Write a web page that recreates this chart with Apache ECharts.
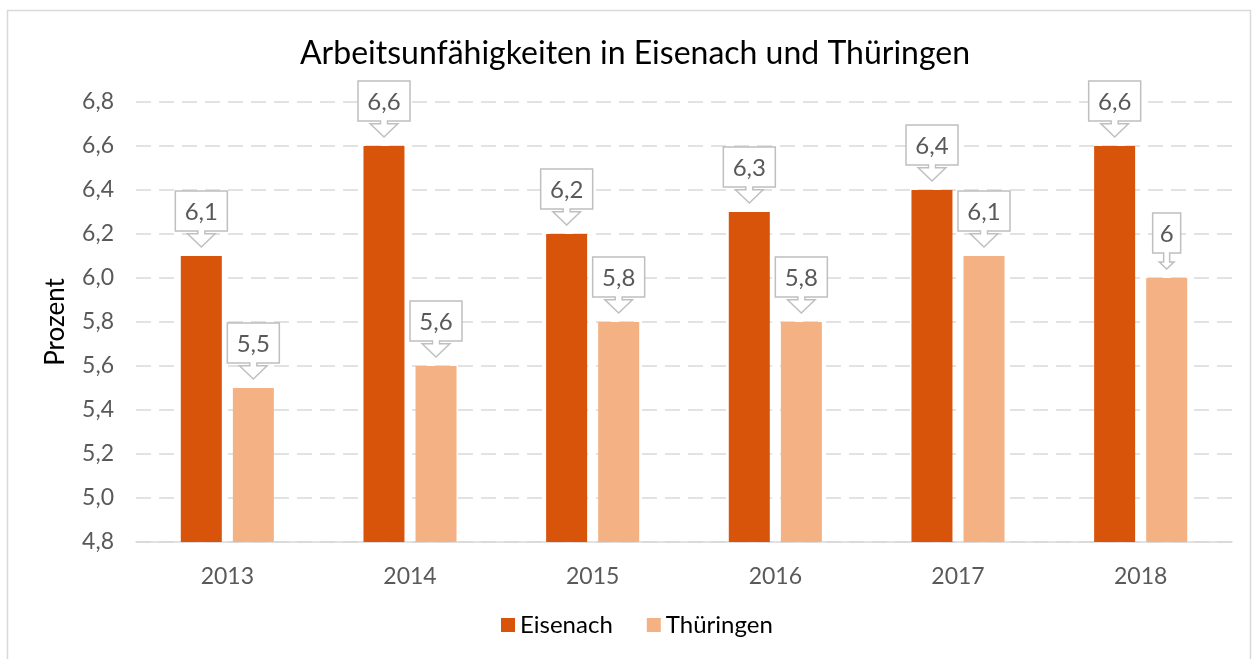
<!DOCTYPE html>
<html>
<head>
<meta charset="utf-8">
<style>
  html, body { margin: 0; padding: 0; background: #fff; }
  #main { width: 1255px; height: 659px; }
</style>
<script src="https://cdn.jsdelivr.net/npm/echarts@6/dist/echarts.min.js"></script>
</head>
<body>
<div id="main"></div>
<script>
// Daten
const years = ['2013', '2014', '2015', '2016', '2017', '2018']
const eisenach = [6.1, 6.6, 6.2, 6.3, 6.4, 6.6]
const thueringen = [5.5, 5.6, 5.8, 5.8, 6.1, 6.0]

const dark = '#D9540B'
const light = '#F4B183'
const fmt = v => String(v).replace('.', ',')

// Callout (Box mit Pfeil nach unten) ueber dem Balken
function callout(offsetFrac) {
  return function (params, api) {
    const i = api.value(0)
    const v = api.value(1)
    const p = api.coord([i, v])
    const band = api.size([1, 0])[0]
    const tx = p[0] + band * offsetFrac
    const ty = p[1] - 9
    const txt = fmt(v)
    const w = 16 + 12 * txt.length
    const h = 40
    const headW = w * 0.53
    const headH = headW * 0.48
    const stemW = txt.length > 1 ? 7 : 6
    const boxBottom = ty - 16
    const headTop = ty - headH
    const pts = [
      [tx - w / 2, boxBottom - h],
      [tx + w / 2, boxBottom - h],
      [tx + w / 2, boxBottom],
      [tx + stemW / 2, boxBottom],
      [tx + stemW / 2, headTop],
      [tx + headW / 2, headTop],
      [tx, ty],
      [tx - headW / 2, headTop],
      [tx - stemW / 2, headTop],
      [tx - stemW / 2, boxBottom],
      [tx - w / 2, boxBottom]
    ]
    return {
      type: 'group',
      children: [
        {
          type: 'polygon',
          shape: { points: pts },
          style: { fill: '#fff', stroke: '#BFBFBF', lineWidth: 1.5 }
        },
        {
          type: 'text',
          style: {
            text: txt,
            x: tx,
            y: boxBottom - h / 2 + 1,
            align: 'center',
            verticalAlign: 'middle',
            font: '24px Lato',
            fill: '#595959'
          }
        }
      ]
    }
  }
}

const chart = echarts.init(document.getElementById('main'))
chart.setOption({
  animation: false,
  textStyle: { fontFamily: 'Lato' },
  graphic: [{
    type: 'rect',
    shape: { x: 7.5, y: 10.5, width: 1243, height: 660 },
    style: { fill: 'none', stroke: '#D9D9D9', lineWidth: 1.5 },
    silent: true
  }],
  title: {
    text: 'Arbeitsunfähigkeiten in Eisenach und Thüringen',
    left: 295,
    top: 33,
    textStyle: { fontFamily: 'Lato', fontSize: 32, fontWeight: 'normal', color: '#000' }
  },
  legend: {
    bottom: 17,
    left: 496,
    itemWidth: 14,
    itemHeight: 14,
    itemGap: 34,
    icon: 'rect',
    textStyle: { fontFamily: 'Lato', fontSize: 24, color: '#000' },
    data: ['Eisenach', 'Thüringen']
  },
  grid: { left: 136, right: 23, top: 102, bottom: 117 },
  xAxis: {
    type: 'category',
    data: years,
    axisTick: { show: false },
    axisLine: { lineStyle: { color: '#D9D9D9', width: 1.5 } },
    axisLabel: { fontSize: 23, color: '#595959', margin: 23 }
  },
  yAxis: {
    type: 'value',
    min: 4.8,
    max: 6.8,
    interval: 0.2,
    name: 'Prozent',
    nameLocation: 'middle',
    nameRotate: 90,
    nameGap: 67,
    nameTextStyle: { fontSize: 26, color: '#000' },
    axisLine: { show: false },
    axisTick: { show: false },
    axisLabel: {
      fontSize: 23, color: '#595959', margin: 22,
      formatter: v => v.toFixed(1).replace('.', ',')
    },
    splitLine: { lineStyle: { color: '#D9D9D9', width: 1.5, type: [15, 8] } }
  },
  series: [
    {
      name: 'Eisenach',
      type: 'bar',
      data: eisenach,
      barWidth: 41,
      barGap: '27%',
      itemStyle: { color: dark }
    },
    {
      name: 'Thüringen',
      type: 'bar',
      data: thueringen,
      barWidth: 41,
      itemStyle: { color: light }
    },
    {
      type: 'custom',
      renderItem: callout(-26 / 182.7),
      data: eisenach.map((v, i) => [i, v]),
      encode: { x: 0, y: 1 },
      clip: false,
      z: 10
    },
    {
      type: 'custom',
      renderItem: callout(26 / 182.7),
      data: thueringen.map((v, i) => [i, v]),
      encode: { x: 0, y: 1 },
      clip: false,
      z: 10
    }
  ]
})
</script>
</body>
</html>
